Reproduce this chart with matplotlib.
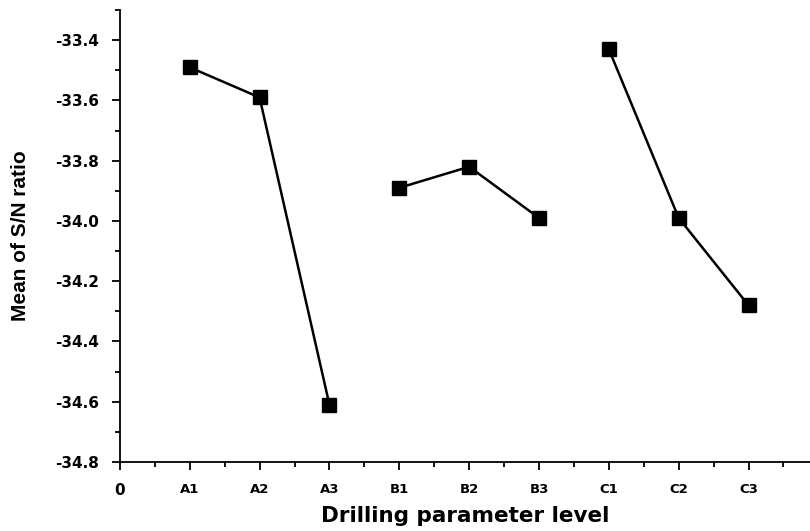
import matplotlib.pyplot as plt
from matplotlib.ticker import MultipleLocator

plt.rcParams['font.family'] = ['DejaVu Sans']
plt.rcParams['axes.unicode_minus'] = False

levels = ['A1', 'A2', 'A3', 'B1', 'B2', 'B3', 'C1', 'C2', 'C3']
factor_a = [-33.49, -33.59, -34.61]
factor_b = [-33.89, -33.82, -33.99]
factor_c = [-33.43, -33.99, -34.28]

fig = plt.figure(figsize=(8.1, 5.31), dpi=100)
ax = fig.add_axes([0.148, 0.130, 0.852, 0.851])

# each factor is drawn as its own segment
for i, vals in enumerate([factor_a, factor_b, factor_c]):
    xs = [3 * i + 1, 3 * i + 2, 3 * i + 3]
    ax.plot(xs, vals, color='black', lw=1.8, marker='s', markersize=10,
            markerfacecolor='black', markeredgecolor='black')

ax.set_xlim(0, 9.88)
ax.set_ylim(-34.8, -33.3)
ax.set_xticks(range(10))
ax.set_xticklabels(['0'] + levels, fontweight='bold', fontsize=9.5)
ax.get_xticklabels()[0].set_fontsize(11)
ax.xaxis.set_minor_locator(MultipleLocator(0.5))
ax.set_yticks([-34.8, -34.6, -34.4, -34.2, -34.0, -33.8, -33.6, -33.4])
ax.yaxis.set_minor_locator(MultipleLocator(0.1))
for lab in ax.get_yticklabels():
    lab.set_fontweight('bold')
    lab.set_fontsize(11)

ax.spines['top'].set_visible(False)
ax.spines['right'].set_visible(False)
ax.spines['left'].set_linewidth(1.3)
ax.spines['bottom'].set_linewidth(1.3)
ax.tick_params(which='major', direction='out', length=6, width=1.3)
ax.tick_params(which='minor', direction='out', length=3.5, width=1.3)
ax.tick_params(axis='y', which='major', pad=9)
ax.tick_params(axis='x', which='major', pad=9)

ax.set_xlabel('Drilling parameter level', fontweight='bold', fontsize=15.5, labelpad=6)
ax.set_ylabel('Mean of S/N ratio', fontweight='bold', fontsize=15,
              family=['Liberation Sans'], labelpad=18)

fig.savefig('out.png', dpi=100)
